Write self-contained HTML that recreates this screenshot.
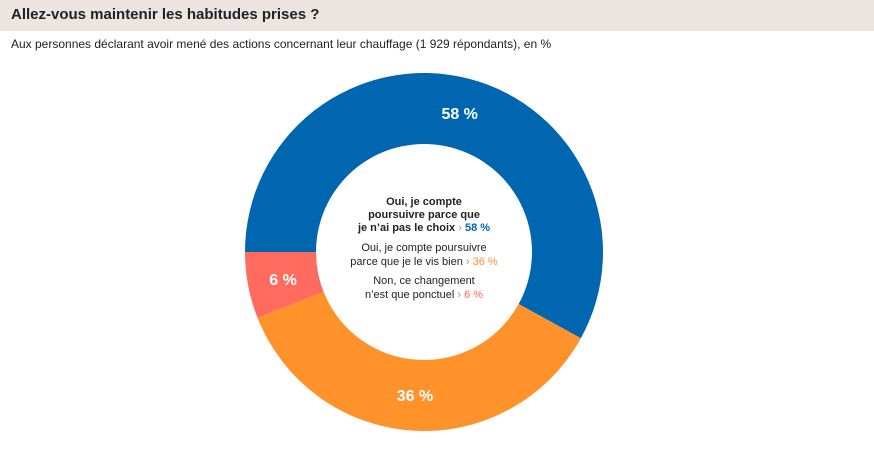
<!DOCTYPE html>
<html><head><meta charset="utf-8"><style>
body{margin:0;width:874px;height:462px;background:#fff;font-family:"Liberation Sans",sans-serif;overflow:hidden;position:relative}
#hdr{position:absolute;left:0;top:0;width:874px;height:31px;background:#ebe4e1}
#title{position:absolute;left:11px;top:6px;font-size:15px;font-weight:bold;color:#222}
#sub{position:absolute;left:11px;top:37px;font-size:12px;color:#222}
svg{position:absolute;left:0;top:0}
</style></head><body>
<div id="hdr"><div id="title">Allez-vous maintenir les habitudes prises ?</div></div>
<div id="sub">Aux personnes déclarant avoir mené des actions concernant leur chauffage (1 929  répondants), en %</div>
<svg id="chart" width="874" height="462">
<g id="slices"></g>
<g font-size="11" text-anchor="middle" fill="#222">
<text x="424" y="205" font-weight="bold">Oui, je compte</text>
<text x="424" y="218" font-weight="bold">poursuivre parce que</text>
<text x="424" y="231"><tspan font-weight="bold">je n’ai pas le choix</tspan> <tspan fill="#999">›</tspan> <tspan fill="#0066b0" font-weight="bold">58 %</tspan></text>
<text x="424" y="251">Oui, je compte poursuivre</text>
<text x="424" y="265">parce que je le vis bien <tspan fill="#999">›</tspan> <tspan fill="#ff922b">36 %</tspan></text>
<text x="424" y="284">Non, ce changement</text>
<text x="424" y="298">n’est que ponctuel <tspan fill="#999">›</tspan> <tspan fill="#ff6b5e">6 %</tspan></text>
</g>
</svg>
<script>
const categories=["Oui, pas le choix","Oui, je le vis bien","Non, ponctuel"];
const values=[58,36,6];
const labels=["58 %","36 %","6 %"];
const colors=["#0066b0","#ff922b","#ff6b5e"];
const cx=424,cy=252,R=179,r=108,start=270;
const g=document.getElementById('slices');
const ns="http://www.w3.org/2000/svg";
const total=values.reduce((a,b)=>a+b,0);
function pt(a,rad){const t=a*Math.PI/180;return [cx+rad*Math.sin(t),cy-rad*Math.cos(t)];}
let a0=start;
values.forEach((v,i)=>{
  const sweep=v/total*360,a1=a0+sweep,large=sweep>180?1:0;
  const p1=pt(a0,R),p2=pt(a1,R),p3=pt(a1,r),p4=pt(a0,r);
  const p=document.createElementNS(ns,'path');
  p.setAttribute('d',`M${p1}A${R},${R} 0 ${large} 1 ${p2}L${p3}A${r},${r} 0 ${large} 0 ${p4}Z`);
  p.setAttribute('fill',colors[i]);
  
  
  g.appendChild(p);
  const m=pt(a0+sweep/2,(R+r)/2);
  const t=document.createElementNS(ns,'text');
  t.setAttribute('x',m[0]);t.setAttribute('y',m[1]+6);
  t.setAttribute('text-anchor','middle');t.setAttribute('fill','#fff');
  t.setAttribute('font-size','16');t.setAttribute('font-weight','bold');
  t.textContent=labels[i];
  
  
  g.appendChild(t);
  a0=a1;
});
</script>
</body></html>
